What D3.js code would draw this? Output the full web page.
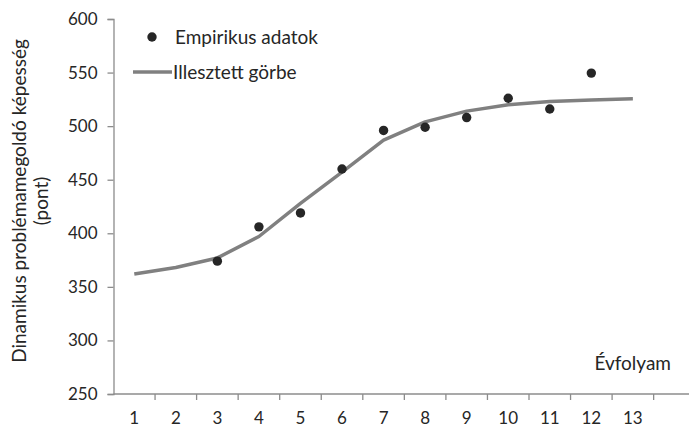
<!DOCTYPE html>
<html>
<head>
<meta charset="utf-8">
<script src="https://cdn.jsdelivr.net/npm/d3@7"></script>
<style>
  html, body { margin: 0; padding: 0; background: #fff; }
  svg { display: block; }
  text { font-family: Lato, "Open Sans", sans-serif; fill: #262626; }
</style>
</head>
<body>
<script>
// Grade levels on the x axis
const grades = ["1", "2", "3", "4", "5", "6", "7", "8", "9", "10", "11", "12", "13"];

// Observed scores (grades 3–12)
const empiricalGrades = ["3", "4", "5", "6", "7", "8", "9", "10", "11", "12"];
const empiricalValues = [374, 406, 419, 460, 496, 499, 508, 526, 516, 549.5];

// Fitted growth curve (grades 1–13)
const fittedValues = [362, 368, 377, 397, 428, 457, 487, 504, 514, 520, 523, 524.5, 525.5];

const yTicks = [250, 300, 350, 400, 450, 500, 550, 600];

const width = 689, height = 427;
const x0 = 113.5, bandW = 41.55;
const numSize = 17, textSize = 19;

const svg = d3.select("body").append("svg")
  .attr("width", width).attr("height", height);

const x = d3.scaleBand().domain(grades).range([x0, x0 + bandW * grades.length]).padding(0);
const y = d3.scaleLinear().domain([250, 600]).range([394, 19]);
const cx = d => x(d) + x.bandwidth() / 2;

const axisColor = "#8c8c8c";

// y axis
const yAxis = svg.append("g").attr("transform", `translate(${x0},0)`)
  .call(d3.axisLeft(y).tickValues(yTicks).tickSize(6).tickPadding(10).tickFormat(d3.format("d")));
yAxis.select(".domain").attr("stroke", axisColor).attr("stroke-width", 1.3);
yAxis.selectAll(".tick line").attr("stroke", axisColor).attr("stroke-width", 1.3);
yAxis.selectAll(".tick text").attr("font-size", numSize).attr("fill", "#262626")
  .style("font-family", "Lato, 'Open Sans', sans-serif");

// x axis: ticks sit on band boundaries, labels centred on bands
const xg = svg.append("g").attr("transform", `translate(0,${y(250)})`);
xg.append("line").attr("x1", x0).attr("x2", width).attr("y1", 0).attr("y2", 0)
  .attr("stroke", axisColor).attr("stroke-width", 1.3);
xg.selectAll("line.tk").data(grades).join("line").attr("class", "tk")
  .attr("x1", d => x(d) + bandW).attr("x2", d => x(d) + bandW)
  .attr("y1", 0).attr("y2", 6).attr("stroke", axisColor).attr("stroke-width", 1.3);
xg.selectAll("text").data(grades).join("text")
  .attr("x", d => cx(d)).attr("y", 29.5).attr("text-anchor", "middle")
  .attr("font-size", numSize).text(d => d);

// fitted curve
const line = d3.line().x((d, i) => cx(grades[i])).y(d => y(d));
svg.append("path").datum(fittedValues).attr("d", line)
  .attr("fill", "none").attr("stroke", "#808080").attr("stroke-width", 3.5)
  .attr("stroke-linejoin", "round");

// observed points
svg.selectAll("circle.pt").data(empiricalValues).join("circle").attr("class", "pt")
  .attr("cx", (d, i) => cx(empiricalGrades[i])).attr("cy", d => y(d)).attr("r", 4.7)
  .attr("fill", "#262626");

// legend
svg.append("circle").attr("cx", 152).attr("cy", 37).attr("r", 4.7).attr("fill", "#262626");
svg.append("text").attr("x", 175).attr("y", 43.5).attr("font-size", textSize).text("Empirikus adatok");
svg.append("line").attr("x1", 133).attr("x2", 172).attr("y1", 72).attr("y2", 72)
  .attr("stroke", "#808080").attr("stroke-width", 3.5);
svg.append("text").attr("x", 173).attr("y", 79).attr("font-size", textSize).text("Illesztett görbe");

// axis titles
const yt = svg.append("text").attr("transform", "translate(19,201) rotate(-90)")
  .attr("text-anchor", "middle").attr("font-size", textSize);
yt.append("tspan").attr("x", 0).attr("dy", "0.35em").text("Dinamikus problémamegoldó képesség");
yt.append("tspan").attr("x", 0).attr("dy", "1.2em").text("(pont)");

svg.append("text").attr("x", 671).attr("y", 370).attr("text-anchor", "end")
  .attr("font-size", textSize).text("Évfolyam");
</script>
</body>
</html>
